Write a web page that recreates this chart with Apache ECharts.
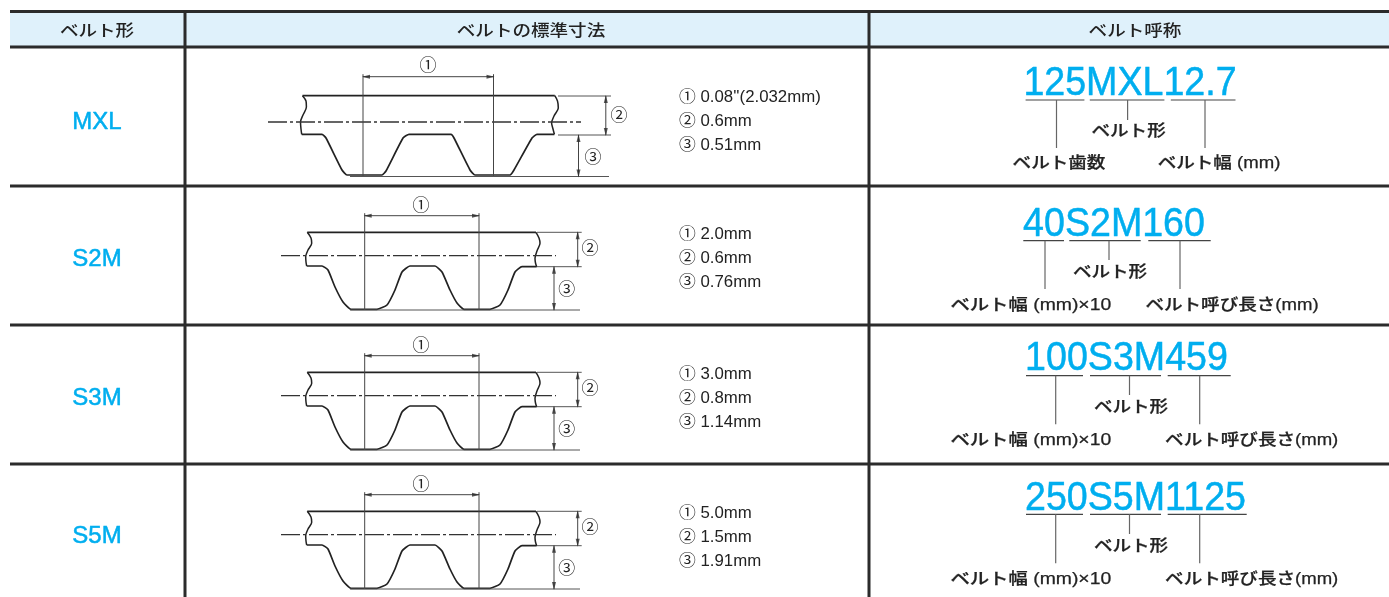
<!DOCTYPE html>
<html>
<head>
<meta charset="utf-8">
<style>
  html, body { margin: 0; padding: 0; background: #fff; }
  #chart { width: 1389px; height: 597px; }
</style>
<script src="https://cdn.jsdelivr.net/npm/echarts@6/dist/echarts.min.js"></script>
</head>
<body>
<div id="chart"></div>
<script>
const headers = ['ベルト形', 'ベルトの標準寸法', 'ベルト呼称']
const beltTypes = ['MXL', 'S2M', 'S3M', 'S5M']
const pitchText = ["0.08''(2.032mm)", '2.0mm', '3.0mm', '5.0mm']
const beltHeight = ['0.6mm', '0.6mm', '0.8mm', '1.5mm']
const toothHeight = ['0.51mm', '0.76mm', '1.14mm', '1.91mm']
const codes = ['125MXL12.7', '40S2M160', '100S3M459', '250S5M1125']
const shapeLabels = ['ベルト形', 'ベルト形', 'ベルト形', 'ベルト形']
const leftLabels = ['ベルト歯数', 'ベルト幅 (mm)×10', 'ベルト幅 (mm)×10', 'ベルト幅 (mm)×10']
const rightLabels = ['ベルト幅 (mm)', 'ベルト呼び長さ(mm)', 'ベルト呼び長さ(mm)', 'ベルト呼び長さ(mm)']

// 歯形の輪郭 (MXL)
const mxlEdgeL = [[302.5, 95.7], [306, 101], [306.4, 107], [303, 115], [300.5, 122], [301, 129], [301.7, 134.3]]
const mxlEdgeR = [[554.8, 95.7], [557.5, 101], [558.3, 108], [554, 116], [551.6, 123], [553, 129], [554.4, 134.3]]
const mxlTop = [[302.5, 95.7], [554.8, 95.7]]
const mxlTeeth = [[301.7, 134.3], [322, 134.3], [326, 138], [342, 170], [347, 175], [382, 175], [386, 171], [403, 138], [409, 134.3], [451, 134.3], [454, 138], [470, 170], [475, 175], [510, 175], [514, 170], [532, 138], [537, 134.3], [554.4, 134.3]]

// 歯形の輪郭 (S2M, S3M, S5M は同じ形)
const sEdgeL = [[307.3, 232.3], [311, 238], [311.7, 243.3], [308, 250], [305.7, 256.7], [306, 262], [306.7, 266]]
const sEdgeR = [[536, 232.3], [539, 238], [540, 243.3], [537, 251], [535, 258.3], [535.5, 263], [536.7, 266.7]]
const sTop = [[307.3, 232.3], [536, 232.3]]
const sTeeth = [[306.7, 266], [322, 266], [328, 270], [335, 287], [343, 302], [351, 309.3], [377, 309.3], [387, 305], [395, 290], [402, 272], [410, 266], [435, 266], [442, 272], [450, 290], [457, 303], [464, 309.3], [490, 309.3], [500, 305], [508, 290], [515, 272], [522, 266.7], [536.7, 266.7]]
const sShift = [0, 0, 140, 279]

// 表の罫線位置
const rowLines = [11.5, 47, 186, 325, 464]
const colLines = [185, 869]
const tableLeft = 10
const tableRight = 1389

const rowCenterY = [121, 258, 397, 535]
const specY = [[96, 120, 144], [233, 257, 281], [373, 397, 421], [512, 536, 560]]
const codeY = [82.5, 223, 357.5, 497.5]
const underlineY = [100, 240.7, 375.7, 514.3]
const underlineX = [
  [1025.6, 1084.4, 1089.8, 1164.4, 1170.8, 1235.5],
  [1023.3, 1064, 1069.3, 1140.7, 1148.3, 1210.7],
  [1026, 1083, 1090, 1161, 1167.7, 1230.7],
  [1026, 1083, 1090, 1161, 1167.7, 1246.7]
]
const tickX = [[1056.5, 1127.6, 1205], [1045, 1109, 1180], [1055.7, 1129.5, 1199.7], [1055.7, 1129.5, 1199.7]]
const tickEnd = [[148, 120, 148], [289, 260, 289], [424.3, 395, 424.3], [563.3, 534, 563.3]]
const shapeLabelPos = [[1128.6, 130], [1110, 271], [1131, 406], [1131, 545]]
const leftLabelPos = [[1059, 162], [1030.8, 304], [1030.8, 439], [1030.8, 578.3]]
const rightLabelPos = [[1219, 162], [1232, 304], [1251.7, 439], [1251.7, 578.3]]
const leftLabelScale = [1.16, 1.21, 1.21, 1.21]
const codeX = [1130, 1114, 1126.5, 1135.5]

const ink = '#2b2b2b'
const cyan = '#00aeef'
const fontFamily = '"Liberation Sans","Noto Sans CJK JP",sans-serif'

const series = []

function line(points, color, width, extra) {
  series.push(Object.assign({
    type: 'line',
    data: points,
    symbol: 'none',
    silent: true,
    animation: false,
    lineStyle: { color: color, width: width },
    z: 3
  }, extra || {}))
}

// 矢印の先
function arrows(points, rotate) {
  series.push({
    type: 'scatter',
    data: points,
    symbol: 'triangle',
    symbolSize: [4, 8],
    symbolRotate: rotate,
    silent: true,
    animation: false,
    itemStyle: { color: ink },
    z: 4
  })
}

// items: [x, y, 文字, scaleX(任意)]
function texts(items, fontSize, color, weight, align, scaleX, strokeW, dy) {
  series.push({
    type: 'custom',
    coordinateSystem: 'cartesian2d',
    data: items.map(v => [v[0], v[1]]),
    silent: true,
    animation: false,
    z: 5,
    renderItem: function (params, api) {
      const p = api.coord([api.value(0), api.value(1)])
      const item = items[params.dataIndex]
      return {
        type: 'text',
        x: p[0],
        y: p[1] + (dy === undefined ? 1.5 : dy),
        scaleX: item[3] || scaleX || 1,
        style: {
          text: item[2],
          fill: color,
          stroke: strokeW ? color : null,
          lineWidth: strokeW || 0,
          font: weight + ' ' + fontSize + 'px ' + fontFamily,
          align: align,
          verticalAlign: 'middle'
        }
      }
    }
  })
}

// ヘッダー背景
series.push({
  type: 'line',
  data: [[tableLeft, rowLines[0]], [tableRight, rowLines[0]]],
  symbol: 'none',
  silent: true,
  animation: false,
  lineStyle: { opacity: 0 },
  markArea: {
    silent: true,
    animation: false,
    itemStyle: { color: '#dff1fb' },
    data: [[{ coord: [tableLeft, rowLines[0]] }, { coord: [tableRight, rowLines[1]] }]]
  },
  z: 1
})

// 罫線
rowLines.forEach(y => line([[tableLeft, y], [tableRight, y]], ink, 3))
colLines.forEach(x => line([[x, rowLines[0]], [x, 597]], ink, 3))

function shift(points, dy) {
  return points.map(p => [p[0], p[1] + dy])
}

function drawBelt(edgeL, edgeR, top, teeth, dy, dim) {
  const curve = { smooth: 0.3 }
  line(shift(edgeL, dy), '#222', 1.5, curve)
  line(shift(edgeR, dy), '#222', 1.5, curve)
  line(shift(top, dy), '#222', 1.7)
  line(shift(teeth, dy), '#222', 1.7, { smooth: 0.15 })
  // 中心線
  line([[dim.cl[0], dim.cy + dy], [dim.cl[1], dim.cy + dy]], '#333', 1.3, {
    lineStyle: { color: '#333', width: 1.3, type: [19, 3, 3, 3] }
  })
  // 寸法線
  dim.px.forEach(x => line([[x, dim.dimY + dy - 2.5], [x, dim.bottom + dy]], '#444', 1))
  line([[dim.px[0], dim.dimY + dy], [dim.px[1], dim.dimY + dy]], '#444', 1)
  line([[dim.ext1[0], dim.yTop + dy], [dim.ext1[1], dim.yTop + dy]], '#555', 1)
  line([[dim.ext1[0], dim.yMid + dy], [dim.ext1[1], dim.yMid + dy]], '#555', 1)
  line([[dim.ext2[0], dim.bottom + dy], [dim.ext2[1], dim.bottom + dy]], '#555', 1)
  line([[dim.x2, dim.yTop + dy], [dim.x2, dim.yMid + dy]], '#444', 1)
  line([[dim.x3, dim.yMid + dy], [dim.x3, dim.bottom + dy]], '#444', 1)
  arrows([[dim.px[0] + 3, dim.dimY + dy]], 90)
  arrows([[dim.px[1] - 3, dim.dimY + dy]], -90)
  arrows([[dim.x2, dim.yTop + dy + 3], [dim.x3, dim.yMid + dy + 3]], 0)
  arrows([[dim.x2, dim.yMid + dy - 3], [dim.x3, dim.bottom + dy - 3]], 180)
  texts([
    [dim.n1[0], dim.n1[1] + dy, '①'],
    [dim.n2[0], dim.n2[1] + dy, '②'],
    [dim.n3[0], dim.n3[1] + dy, '③']
  ], 17, '#222', 'normal', 'center')
}

const mxlDim = {
  cl: [268, 581], cy: 122, px: [363, 493.5], dimY: 76.7, bottom: 176.5, yTop: 96, yMid: 135,
  ext1: [558, 611], ext2: [350, 609], x2: 605.8, x3: 578.5,
  n1: [428, 65], n2: [619, 115], n3: [593, 157]
}
const sDim = {
  cl: [281, 556], cy: 255.7, px: [364.7, 479], dimY: 215.7, bottom: 310, yTop: 232.3, yMid: 266.7,
  ext1: [537, 581.7], ext2: [350, 580], x2: 577.7, x3: 554,
  n1: [421, 205], n2: [590, 248.3], n3: [566.7, 289]
}

drawBelt(mxlEdgeL, mxlEdgeR, mxlTop, mxlTeeth, 0, mxlDim)
for (let i = 1; i < beltTypes.length; i++) {
  drawBelt(sEdgeL, sEdgeR, sTop, sTeeth, sShift[i], sDim)
}

// 呼称の下線と引出線
codes.forEach((c, i) => {
  const u = underlineX[i]
  for (let k = 0; k < 3; k++) {
    line([[u[k * 2], underlineY[i]], [u[k * 2 + 1], underlineY[i]]], '#444', 1.2)
    line([[tickX[i][k], underlineY[i]], [tickX[i][k], tickEnd[i][k]]], '#666', 1.2)
  }
})

// 文字
texts([[97, 30, headers[0]], [531, 30, headers[1]], [1135, 30, headers[2]]], 16, '#222', '500', 'center', 1.16)
texts(beltTypes.map((t, i) => [97, rowCenterY[i], t]), 24, cyan, 'normal', 'center', 1, 0.5)
const specItems = []
beltTypes.forEach((t, i) => {
  specItems.push([679, specY[i][0], '① ' + pitchText[i]])
  specItems.push([679, specY[i][1], '② ' + beltHeight[i]])
  specItems.push([679, specY[i][2], '③ ' + toothHeight[i]])
})
texts(specItems, 16, '#222', 'normal', 'left', 1.05)
texts(codes.map((t, i) => [codeX[i], codeY[i], t]), 40, cyan, 'normal', 'center', 0.94, 0.5, 1.5)
texts(shapeLabels.map((t, i) => [shapeLabelPos[i][0], shapeLabelPos[i][1], t]), 16, '#222', '500', 'center', 1.16, 0.25)
texts(leftLabels.map((t, i) => [leftLabelPos[i][0], leftLabelPos[i][1], t, leftLabelScale[i]]), 16, '#222', '500', 'center', 1, 0.25)
texts(rightLabels.map((t, i) => [rightLabelPos[i][0], rightLabelPos[i][1], t]), 16, '#222', '500', 'center', 1.16, 0.25)

const myChart = echarts.init(document.getElementById('chart'))
myChart.setOption({
  animation: false,
  backgroundColor: '#fff',
  grid: { left: 0, right: 0, top: 0, bottom: 0 },
  xAxis: { type: 'value', min: 0, max: 1389, show: false },
  yAxis: { type: 'value', min: 0, max: 597, inverse: true, show: false },
  tooltip: { show: false },
  series: series
})
</script>
</body>
</html>
